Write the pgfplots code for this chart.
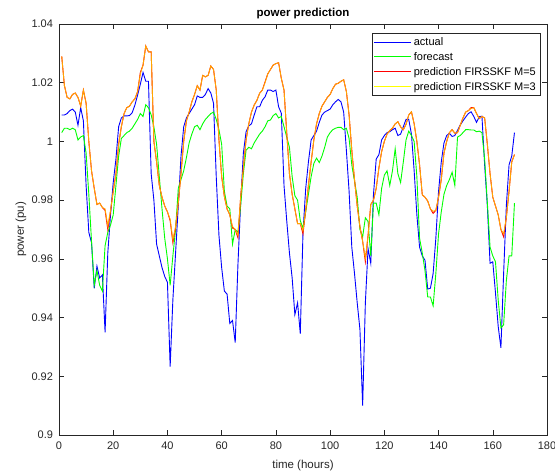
\documentclass[border=0pt]{standalone}
\usepackage{pgfplots}
\usepackage{pgfplotstable}
\pgfplotsset{compat=1.18}
\usepackage{fontspec}
\setmainfont{Liberation Sans}
\definecolor{axgray}{rgb}{0.15,0.15,0.15}
\definecolor{mblue}{rgb}{0,0,1}
\definecolor{mgreen}{rgb}{0,1,0}
\definecolor{mred}{rgb}{1,0,0}
\definecolor{myellow}{rgb}{1,1,0}
% yellow M=3 line drawn over the red M=5 line reads as orange in the reference
\definecolor{overlap}{rgb}{1,0.65,0}
\pgfplotsset{legend image code/.code={%
    \draw[mark repeat=2,mark phase=2,#1] plot coordinates {(0pt,0pt) (18.5pt,0pt) (37pt,0pt)};}}

% hour, actual, forecast, prediction M=5, prediction M=3
\pgfplotstableread{
h act fc m5 m3
1 1.0090 1.0030 1.0290 1.0290
2 1.0090 1.0045 1.0190 1.0190
3 1.0095 1.0045 1.0150 1.0150
4 1.0105 1.0040 1.0145 1.0145
5 1.0110 1.0045 1.0160 1.0160
6 1.0100 1.0040 1.0165 1.0165
7 1.0055 1.0005 1.0150 1.0150
8 1.0115 1.0015 1.0120 1.0120
9 1.0070 1.0020 1.0175 1.0175
10 0.9850 0.9960 1.0130 1.0130
11 0.9690 0.9820 1.0000 1.0000
12 0.9655 0.9660 0.9900 0.9900
13 0.9500 0.9510 0.9840 0.9840
14 0.9575 0.9560 0.9785 0.9785
15 0.9535 0.9510 0.9790 0.9790
16 0.9545 0.9490 0.9775 0.9775
17 0.9350 0.9645 0.9765 0.9770
18 0.9620 0.9690 0.9700 0.9712
19 0.9750 0.9715 0.9760 0.9765
20 0.9860 0.9750 0.9830 0.9830
21 0.9940 0.9850 0.9890 0.9890
22 1.0050 0.9950 0.9990 0.9990
23 1.0080 1.0010 1.0050 1.0050
24 1.0087 1.0020 1.0095 1.0095
25 1.0087 1.0030 1.0115 1.0115
26 1.0088 1.0035 1.0120 1.0120
27 1.0098 1.0045 1.0135 1.0135
28 1.0124 1.0060 1.0145 1.0145
29 1.0158 1.0075 1.0170 1.0170
30 1.0195 1.0095 1.0235 1.0230
31 1.0235 1.0085 1.0260 1.0260
32 1.0205 1.0125 1.0325 1.0325
33 1.0205 1.0115 1.0305 1.0305
34 0.9890 1.0090 1.0305 1.0305
35 0.9800 1.0050 1.0000 1.0000
36 0.9650 0.9990 0.9930 0.9930
37 0.9610 0.9880 0.9850 0.9850
38 0.9570 0.9770 0.9810 0.9810
39 0.9540 0.9670 0.9780 0.9780
40 0.9520 0.9600 0.9760 0.9760
41 0.9233 0.9510 0.9730 0.9735
42 0.9460 0.9610 0.9655 0.9665
43 0.9620 0.9700 0.9705 0.9710
44 0.9780 0.9840 0.9790 0.9790
45 0.9950 0.9870 0.9890 0.9890
46 1.0050 0.9900 1.0000 1.0000
47 1.0080 0.9945 1.0070 1.0070
48 1.0095 0.9995 1.0100 1.0100
49 1.0110 1.0025 1.0135 1.0135
50 1.0125 1.0050 1.0160 1.0160
51 1.0155 1.0055 1.0190 1.0190
52 1.0150 1.0040 1.0175 1.0175
53 1.0150 1.0060 1.0225 1.0225
54 1.0160 1.0075 1.0220 1.0220
55 1.0180 1.0085 1.0225 1.0225
56 1.0165 1.0095 1.0257 1.0257
57 1.0130 1.0100 1.0245 1.0245
58 0.9880 1.0075 1.0175 1.0175
59 0.9680 1.0040 1.0005 1.0005
60 0.9570 0.9990 0.9880 0.9880
61 0.9490 0.9830 0.9812 0.9812
62 0.9480 0.9780 0.9770 0.9770
63 0.9380 0.9770 0.9750 0.9750
64 0.9390 0.9650 0.9705 0.9710
65 0.9315 0.9700 0.9700 0.9700
66 0.9580 0.9690 0.9672 0.9680
67 0.9790 0.9780 0.9810 0.9810
68 0.9960 0.9890 0.9910 0.9910
69 1.0033 0.9970 1.0005 1.0005
70 1.0053 0.9980 1.0060 1.0060
71 1.0060 0.9975 1.0100 1.0100
72 1.0090 0.9995 1.0124 1.0124
73 1.0118 1.0010 1.0140 1.0140
74 1.0118 1.0025 1.0164 1.0164
75 1.0140 1.0035 1.0175 1.0175
76 1.0152 1.0050 1.0203 1.0200
77 1.0175 1.0070 1.0230 1.0230
78 1.0175 1.0073 1.0245 1.0245
79 1.0170 1.0088 1.0260 1.0260
80 1.0175 1.0095 1.0265 1.0265
81 1.0118 1.0080 1.0268 1.0268
82 1.0096 1.0085 1.0215 1.0215
83 0.9850 1.0050 1.0175 1.0175
84 0.9730 1.0015 1.0030 1.0030
85 0.9620 0.9980 0.9890 0.9890
86 0.9535 0.9880 0.9820 0.9820
87 0.9410 0.9815 0.9770 0.9770
88 0.9450 0.9800 0.9720 0.9720
89 0.9345 0.9730 0.9720 0.9720
90 0.9690 0.9705 0.9685 0.9695
91 0.9840 0.9760 0.9765 0.9765
92 0.9930 0.9820 0.9850 0.9850
93 1.0005 0.9880 0.9930 0.9930
94 1.0020 0.9925 1.0005 1.0005
95 1.0035 0.9943 1.0060 1.0060
96 1.0065 0.9928 1.0095 1.0095
97 1.0090 0.9950 1.0120 1.0120
98 1.0100 0.9980 1.0135 1.0135
99 1.0105 1.0015 1.0150 1.0150
100 1.0110 1.0030 1.0160 1.0160
101 1.0125 1.0040 1.0180 1.0180
102 1.0135 1.0045 1.0195 1.0195
103 1.0143 1.0048 1.0198 1.0198
104 1.0135 1.0048 1.0205 1.0205
105 1.0100 1.0040 1.0210 1.0210
106 0.9970 1.0045 1.0170 1.0170
107 0.9830 1.0010 1.0090 1.0090
108 0.9640 0.9920 0.9970 0.9970
109 0.9550 0.9865 0.9870 0.9870
110 0.9450 0.9810 0.9780 0.9780
111 0.9360 0.9700 0.9710 0.9710
112 0.9100 0.9675 0.9660 0.9660
113 0.9450 0.9740 0.9590 0.9602
114 0.9635 0.9727 0.9680 0.9680
115 0.9585 0.9610 0.9785 0.9785
116 0.9820 0.9790 0.9800 0.9800
117 0.9940 0.9790 0.9840 0.9840
118 0.9955 0.9750 0.9910 0.9910
119 1.0005 0.9840 0.9965 0.9965
120 1.0020 0.9885 1.0000 1.0000
121 1.0030 0.9900 1.0025 1.0025
122 1.0033 0.9850 1.0037 1.0037
123 1.0040 0.9900 1.0045 1.0045
124 1.0045 0.9975 1.0060 1.0060
125 1.0020 0.9890 1.0067 1.0067
126 1.0025 0.9860 1.0050 1.0050
127 1.0050 0.9930 1.0040 1.0040
128 1.0075 1.0005 1.0058 1.0058
129 1.0075 1.0035 1.0090 1.0090
130 1.0025 1.0020 1.0101 1.0101
131 0.9900 1.0000 1.0060 1.0060
132 0.9750 0.9880 1.0000 1.0000
133 0.9640 0.9670 0.9920 0.9920
134 0.9610 0.9620 0.9818 0.9818
135 0.9595 0.9560 0.9810 0.9810
136 0.9497 0.9470 0.9797 0.9797
137 0.9500 0.9470 0.9770 0.9770
138 0.9550 0.9440 0.9755 0.9762
139 0.9670 0.9550 0.9765 0.9765
140 0.9830 0.9685 0.9810 0.9810
141 0.9930 0.9760 0.9870 0.9870
142 0.9995 0.9820 0.9960 0.9960
143 1.0020 0.9850 1.0000 1.0000
144 1.0028 0.9870 1.0030 1.0030
145 1.0017 0.9895 1.0040 1.0040
146 1.0020 0.9850 1.0028 1.0028
147 1.0038 1.0015 1.0030 1.0030
148 1.0056 1.0020 1.0055 1.0055
149 1.0070 1.0030 1.0080 1.0080
150 1.0083 1.0040 1.0100 1.0100
151 1.0095 1.0040 1.0105 1.0105
152 1.0101 1.0039 1.0115 1.0112
153 1.0085 1.0039 1.0115 1.0115
154 1.0065 1.0033 1.0095 1.0095
155 1.0084 1.0035 1.0078 1.0078
156 1.0086 1.0030 1.0085 1.0085
157 0.9920 0.9940 1.0080 1.0080
158 0.9780 0.9790 0.9990 0.9990
159 0.9585 0.9640 0.9890 0.9890
160 0.9590 0.9610 0.9810 0.9810
161 0.9484 0.9590 0.9780 0.9780
162 0.9370 0.9460 0.9750 0.9750
163 0.9297 0.9365 0.9700 0.9700
164 0.9550 0.9375 0.9675 0.9685
165 0.9780 0.9525 0.9740 0.9740
166 0.9920 0.9610 0.9830 0.9830
167 0.9950 0.9610 0.9930 0.9930
168 1.0030 0.9790 0.9955 0.9955
}\powerdata

\begin{document}
\begin{tikzpicture}
\useasboundingbox (-59pt,-37pt) rectangle (496pt,435pt);
\begin{axis}[
    at={(0pt,0pt)}, anchor=south west,
    scale only axis,
    width=488pt, height=411pt,
    xmin=0, xmax=180,
    ymin=0.9, ymax=1.04,
    xtick={0,20,40,60,80,100,120,140,160,180},
    ytick={0.9,0.92,0.94,0.96,0.98,1,1.02,1.04},
    yticklabel style={/pgf/number format/fixed, /pgf/number format/precision=2, xshift=-2.5pt},
    xticklabel style={yshift=-3.5pt},
    /pgf/number format/assume math mode=true,
    tick align=inside,
    major tick length=5pt,
    axis line style={draw=axgray},
    tick style={draw=axgray, line width=0.5pt},
    ticklabel style={font=\fontsize{11}{13}\selectfont, text=axgray},
    title={power prediction},
    every axis title shift=0pt,
    title style={at={(axis description cs:0.5,1.025)}, anchor=center, font=\bfseries\fontsize{11.5}{13}\selectfont},
    xlabel={time (hours)},
    xlabel style={at={(axis description cs:0.5,-0.074)}, anchor=center, font=\fontsize{11.5}{13}\selectfont, text=axgray},
    ylabel={power (pu)},
    ylabel style={at={(axis description cs:-0.078,0.5)}, anchor=center, font=\fontsize{11.5}{13}\selectfont, text=axgray},
    legend style={at={(axis description cs:0.9857,0.978)}, anchor=north east,
        draw=axgray, fill=white, font=\fontsize{11}{13}\selectfont,
        inner xsep=2pt, inner ysep=2pt, row sep=1.5pt},
    legend cell align=left,
]
\addplot[mblue, line width=0.9pt] table[x=h, y=act] {\powerdata};
\addlegendentry{actual}
\addplot[mgreen, line width=0.9pt] table[x=h, y=fc] {\powerdata};
\addlegendentry{forecast}
\addplot[mred, line width=0.9pt] table[x=h, y=m5] {\powerdata};
\addlegendentry{prediction FIRSSKF M=5}
\addplot[overlap, line width=0.9pt, forget plot] table[x=h, y=m3] {\powerdata};
\addlegendimage{myellow, line width=0.9pt}
\addlegendentry{prediction FIRSSKF M=3}
\end{axis}
\end{tikzpicture}
\end{document}
